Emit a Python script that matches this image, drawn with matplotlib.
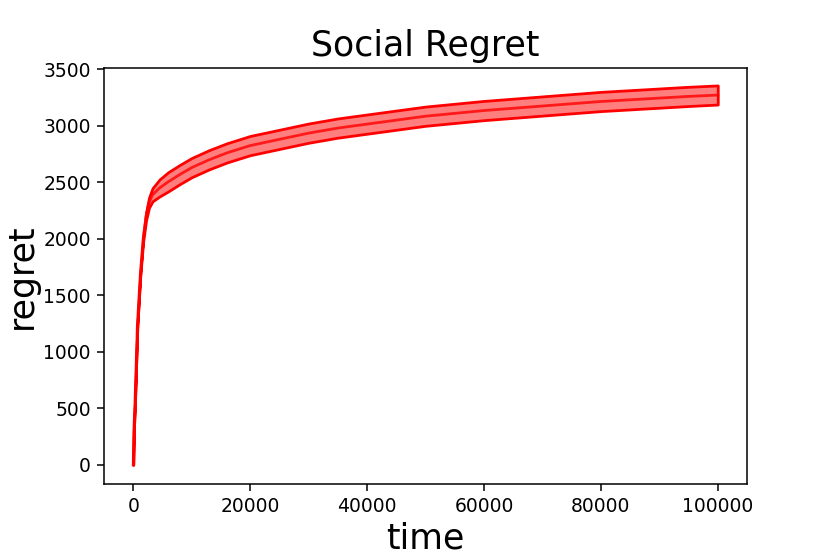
import matplotlib
matplotlib.use('Agg')
import matplotlib.pyplot as plt

# values
time = [0, 100, 300, 700, 1200, 1700, 2200, 2700, 3300, 4500, 6000, 8000, 10000,
        13000, 16000, 20000, 25000, 30000, 35000, 40000, 45000, 50000, 55000,
        60000, 65000, 70000, 75000, 80000, 85000, 90000, 95000, 100000]
regret_mean = [0, 300, 560, 1230, 1680, 2000, 2200, 2320, 2390, 2450, 2505, 2570, 2630,
               2700, 2760, 2825, 2880, 2935, 2980, 3015, 3050, 3085, 3110,
               3135, 3155, 3175, 3195, 3215, 3230, 3245, 3260, 3272]
regret_upper = [0, 302, 565, 1240, 1695, 2025, 2235, 2365, 2448, 2525, 2590, 2655, 2715,
                2785, 2845, 2910, 2965, 3020, 3065, 3100, 3135, 3170, 3195,
                3220, 3240, 3260, 3280, 3300, 3315, 3330, 3345, 3357]
regret_lower = [0, 298, 555, 1220, 1665, 1975, 2165, 2275, 2332, 2375, 2420, 2485, 2545,
                2615, 2675, 2740, 2795, 2850, 2895, 2930, 2965, 3000, 3025,
                3050, 3070, 3090, 3110, 3130, 3145, 3160, 3175, 3188]

fig = plt.figure(figsize=(8.3, 5.54), dpi=100)
fig.subplots_adjust(left=0.1253, right=0.9, top=0.877, bottom=0.1264)
ax = fig.add_subplot(111)

ax.fill_between(time, regret_lower, regret_upper, facecolor=(1, 0, 0, 0.5),
                edgecolor='red', linewidth=2)
ax.plot(time, regret_mean, color='red', linewidth=2, alpha=0.8)

ax.set_ylim(-168, 3510)
ax.set_title('Social Regret', fontsize=25, pad=9)
ax.set_xlabel('time', fontsize=25)
ax.set_ylabel('regret', fontsize=25, labelpad=3)
ax.tick_params(labelsize=13.5, length=4.7, width=1.1, pad=4.7)
for s in ax.spines.values():
    s.set_linewidth(1.1)

fig.savefig('out.png', dpi=100)
